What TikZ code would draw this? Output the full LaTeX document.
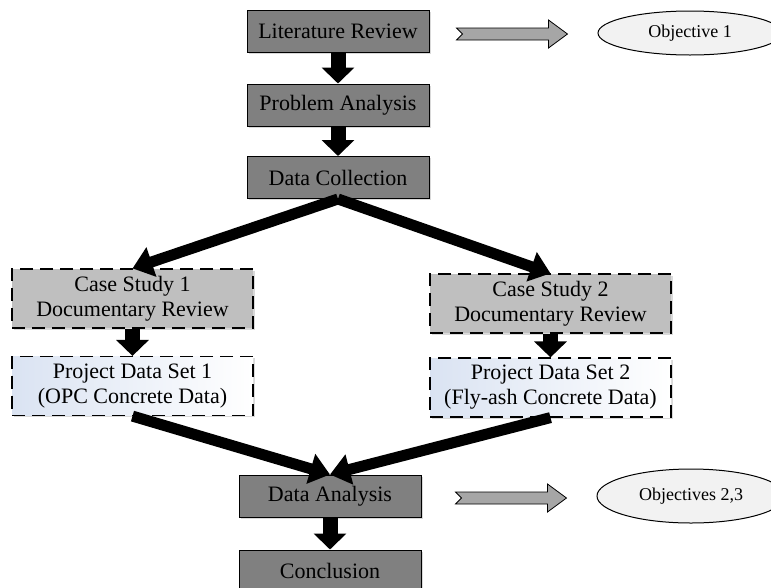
\documentclass[tikz,border=0pt]{standalone}
\usepackage{fontspec}
\setmainfont{Liberation Serif}
\usetikzlibrary{arrows.meta,shapes.geometric,shadows,calc}

\definecolor{stepgray}{RGB}{128,128,128}
\definecolor{casegray}{RGB}{191,191,191}
\definecolor{datablue}{RGB}{218,227,242}
\definecolor{goalfill}{RGB}{242,242,242}
\definecolor{pointgray}{RGB}{166,166,166}

\newcommand{\flowfont}{\fontsize{22}{25}\selectfont}
\newcommand{\goalfont}{\fontsize{18}{21}\selectfont}

% notched gray arrow between two named coordinates (same height)
\newcommand{\goalarrow}[2]{%
  \draw[pointer] let \p1=(#1), \p2=(#2) in
    (\x1,\y1+6pt) -- (\x2-19pt,\y1+6pt) -- (\x2-19pt,\y1+14pt) -- (\x2,\y1)
    -- (\x2-19pt,\y1-14pt) -- (\x2-19pt,\y1-6pt) -- (\x1,\y1-6pt) -- (\x1+6pt,\y1) -- cycle;}

\begin{document}
\begin{tikzpicture}[x=1pt,y=1pt,line join=miter]
  \tikzstyle{shade}=[drop shadow={shadow xshift=1.5pt,shadow yshift=-1.5pt,opacity=.3}]
  \tikzstyle{stepbox}=[rectangle,draw=black,line width=1pt,fill=stepgray,shade,
                       minimum width=182pt,minimum height=42pt,inner sep=0pt,font=\flowfont]
  \tikzstyle{casebox}=[rectangle,draw=black,line width=1.2pt,dash pattern=on 13pt off 7pt,
                       fill=casegray,shade,minimum width=241pt,minimum height=59pt,
                       inner sep=0pt,align=center,font=\flowfont]
  \tikzstyle{databox}=[casebox,left color=datablue,right color=white]
  \tikzstyle{goal}=[ellipse,draw=black,line width=1pt,fill=goalfill,
                    minimum width=186pt,minimum height=46pt,inner sep=0pt,font=\goalfont]
  \tikzstyle{pointer}=[draw=black,line width=0.8pt,fill=pointgray]
  \tikzstyle{down}=[line width=15pt,-{Triangle[width=32pt,length=16pt]}]
  \tikzstyle{fork}=[line width=11pt,-{Triangle[width=30pt,length=20pt]}]

  \useasboundingbox (0,0) rectangle (771,-587);
  \clip (0,0) rectangle (771,-587);

  \node[stepbox] (review)   at (338,-31.5) {Literature Review};
  \node[stepbox] (problem)  at (338,-105)  {Problem Analysis};
  \node[stepbox] (collect)  at (338,-177.5){Data Collection};
  \node[casebox] (case1)    at (132.5,-298.5) {Case Study 1\\Documentary Review};
  \node[databox] (data1)    at (132.5,-386)   {Project Data Set 1\\(OPC Concrete Data)};
  \node[casebox] (case2)    at (550.5,-303.5) {Case Study 2\\Documentary Review};
  \node[databox] (data2)    at (550.5,-387.5) {Project Data Set 2\\(Fly-ash Concrete Data)};
  \node[stepbox] (analysis) at (330,-496)  {Data Analysis};
  \node[stepbox] (concl)    at (330,-571)  {Conclusion};

  \node[goal,minimum width=184pt,minimum height=44pt] (obj1) at (690,-33) {Objective 1};
  \node[goal,minimum width=188pt,minimum height=54pt] (obj23) at (691,-496) {Objectives 2,3};

  \draw [down] (review) -- (problem);
  \draw [down] (problem) -- (collect);
  \draw [down] (case1) -- (data1);
  \draw [down] (case2) -- (data2);
  \draw [down] (analysis) -- (concl);

  \draw [fork] (collect.south) -- (case1.north);
  \draw [fork] (collect.south) -- (case2.north);
  \draw [fork] (data1.south) -- (analysis.north);
  \draw [fork] (data2.south) -- (analysis.north);

  \coordinate (g1s) at ($(review.east)+(27,-2.5)$);
  \coordinate (g1e) at ($(obj1.west)+(-30,0)$);
  \coordinate (g2s) at ($(analysis.east)+(34,-2)$);
  \coordinate (g2e) at ($(obj23.west)+(-30,0)$);
  \goalarrow{g1s}{g1e}
  \goalarrow{g2s}{g2e}
\end{tikzpicture}
\end{document}
